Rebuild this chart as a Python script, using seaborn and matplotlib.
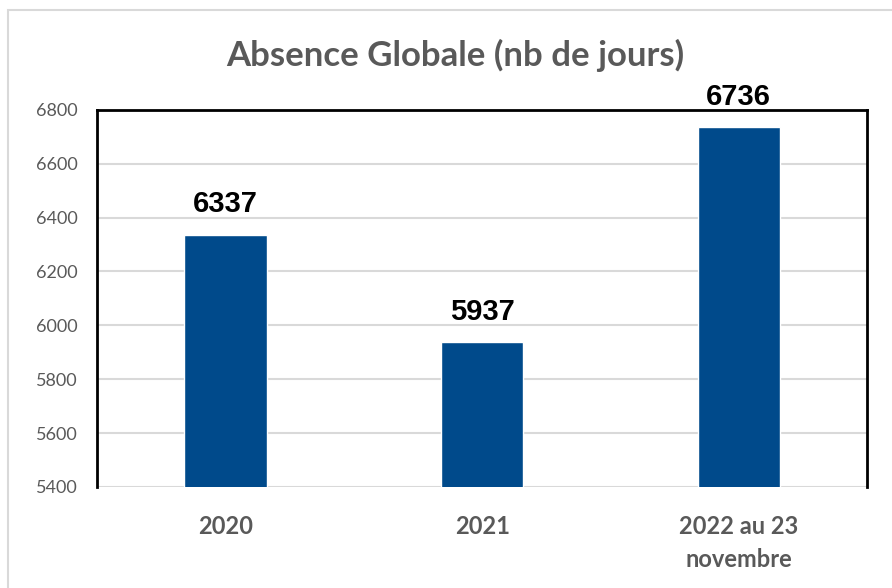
import matplotlib
matplotlib.use("Agg")
import matplotlib.pyplot as plt
import seaborn as sns
import pandas as pd
from matplotlib.patches import Rectangle

# Data
categories = ["2020", "2021", "2022 au 23\nnovembre"]
values = [6337, 5937, 6736]
y_ticks = [5400, 5600, 5800, 6000, 6200, 6400, 6600, 6800]

df = pd.DataFrame({"periode": categories, "jours": values})

sns.set_theme(style="white")
plt.rcParams["font.family"] = ["Lato", "DejaVu Sans"]

fig = plt.figure(figsize=(8.92, 5.88), dpi=100)
ax = fig.add_axes([0.109, 0.172, 0.863, 0.641])

sns.barplot(data=df, x="periode", y="jours", color="#004A8B",
            width=0.32, saturation=1, ax=ax, zorder=3)

ax.set_ylim(5400, 6800)
ax.set_yticks(y_ticks)
ax.yaxis.grid(True, color="#D9D9D9", linewidth=1.5, zorder=0)
ax.set_xlabel("")
ax.set_ylabel("")

# Black frame on left, top, right
for side in ["left", "top", "right"]:
    ax.spines[side].set_color("black")
    ax.spines[side].set_linewidth(2)
ax.spines["bottom"].set_visible(False)

ax.tick_params(axis="y", labelsize=13, labelcolor="#595959", length=0, pad=14)
ax.tick_params(axis="x", labelsize=17, labelcolor="#595959", length=0, pad=20)
for lbl in ax.get_xticklabels():
    lbl.set_fontweight("bold")
    lbl.set_linespacing(1.55)

# Value labels above bars (drawn over the frame)
for i, v in enumerate(values):
    ax.annotate(str(v), (i, v), xytext=(0, 12), textcoords="offset points",
                ha="center", va="bottom", fontsize=21, fontweight="bold",
                color="black", family="Liberation Sans",
                annotation_clip=False, zorder=6)

fig.text(0.51, 0.905, "Absence Globale (nb de jours)", ha="center", va="center",
         fontsize=25, fontweight="bold", color="#595959")

# Light grey outer chart border
fig.add_artist(Rectangle((0.009, -0.01), 1.0, 0.993, transform=fig.transFigure,
                         fill=False, edgecolor="#D9D9D9", linewidth=1.5))

fig.savefig("out.png", dpi=100)
